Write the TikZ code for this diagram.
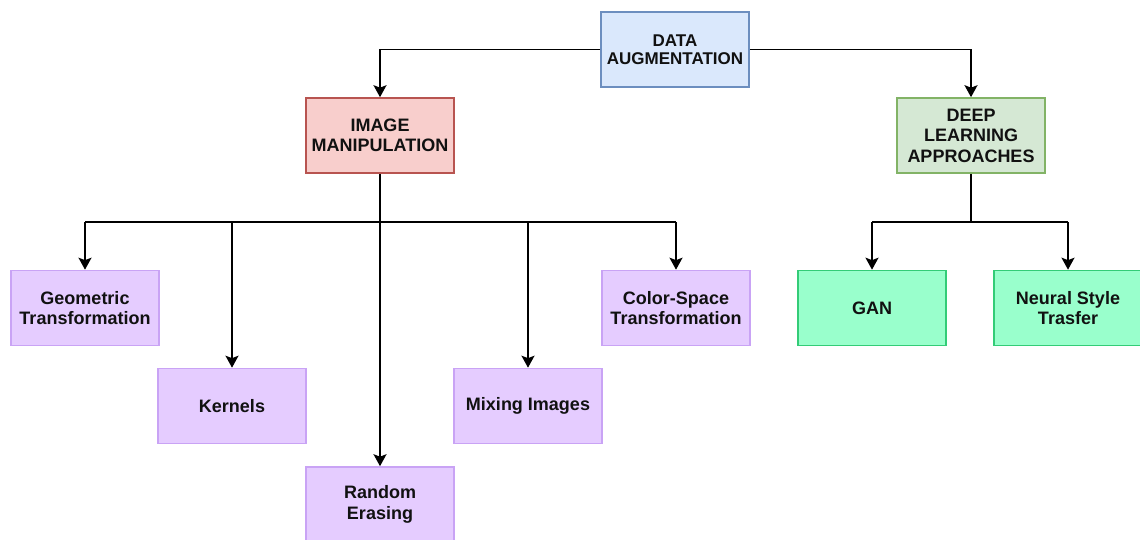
\documentclass[tikz,border=0pt]{standalone}
\usepackage{fontspec}
\setmainfont{Liberation Sans}
\usetikzlibrary{arrows.meta}

\definecolor{blueF}{HTML}{DAE8FC}\definecolor{blueD}{HTML}{6C8EBF}
\definecolor{redF}{HTML}{F8CECC}\definecolor{redD}{HTML}{B85450}
\definecolor{greenF}{HTML}{D5E8D4}\definecolor{greenD}{HTML}{82B366}
\definecolor{violetF}{HTML}{E5CCFF}\definecolor{violetD}{HTML}{C9A3F5}
\definecolor{mintF}{HTML}{99FFCC}\definecolor{mintD}{HTML}{33CC77}
\definecolor{ink}{HTML}{111111}

\begin{document}
\begin{tikzpicture}[x=1pt,y=-1pt,
  box/.style={rectangle, minimum width=148pt, minimum height=75pt, inner sep=0pt,
    line width=1.6pt, align=center, text=ink,
    font=\fontsize{18}{20.5}\selectfont\bfseries},
  topbox/.style={box, fill=blueF, draw=blueD,
    font=\fontsize{17}{18.5}\selectfont\bfseries},
  imgbox/.style={box, fill=redF, draw=redD},
  dlbox/.style={box, fill=greenF, draw=greenD},
  leafbox/.style={box, fill=violetF, draw=violetD},
  genbox/.style={box, fill=mintF, draw=mintD},
  link/.style={line width=1.9pt, draw=black},
  arr/.style={link, -{Stealth[length=12pt,width=13pt,inset=2.5pt]}}]
\useasboundingbox (0,0) rectangle (1140,540);
\fill[white] (0,0) rectangle (1140,540);

% boxes, placed by their centres
\node[topbox]  (da)  at (675,49.5)  {DATA\\AUGMENTATION};
\node[imgbox]  (im)  at (380,135.5) {IMAGE\\MANIPULATION};
\node[dlbox]   (dl)  at (971,135.5) {DEEP\\LEARNING\\APPROACHES};
\node[leafbox] (geo) at (85,308)    {Geometric\\Transformation};
\node[leafbox] (ker) at (232,406)   {Kernels};
\node[leafbox] (era) at (380,504.5) {Random\\Erasing};
\node[leafbox] (mix) at (528,406)   {Mixing Images};
\node[leafbox] (col) at (676,308)   {Color-Space\\Transformation};
\node[genbox]  (gan) at (872,308)   {GAN};
\node[genbox]  (nst) at (1068,308)  {Neural Style\\Trasfer};

% top level
\draw[arr] (da.west) -| (im.north);
\draw[arr] (da.east) -| (dl.north);

% image manipulation branches
\coordinate (ib) at (380,222);
\draw[link] (im.south) -- (ib);
\draw[link] (geo.north |- ib) -- (col.north |- ib);
\draw[arr] (geo.north |- ib) -- (geo.north);
\draw[arr] (ker.north |- ib) -- (ker.north);
\draw[arr] (ib) -- (era.north);
\draw[arr] (mix.north |- ib) -- (mix.north);
\draw[arr] (col.north |- ib) -- (col.north);

% deep learning branches
\coordinate (db) at (971,222);
\draw[link] (dl.south) -- (db);
\draw[link] (gan.north |- db) -- (nst.north |- db);
\draw[arr] (gan.north |- db) -- (gan.north);
\draw[arr] (nst.north |- db) -- (nst.north);
\end{tikzpicture}
\end{document}
